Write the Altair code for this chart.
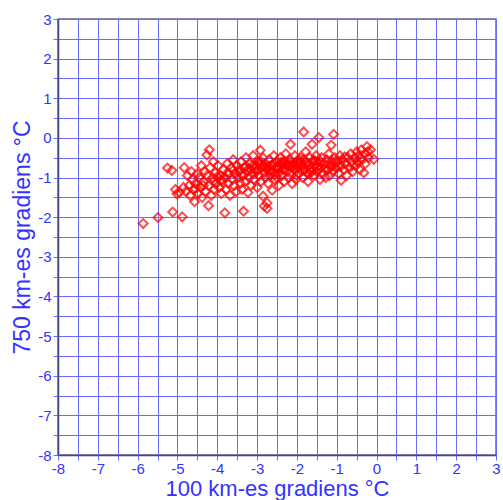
import altair as alt
import pandas as pd

xs = [
    -5.86, -5.49, -5.12, -4.88,
    -5.25, -5.14, -5.01, -5.05, -4.95,
    -4.83, -4.85, -4.78, -4.75, -4.70, -4.68, -4.65, -4.62, -4.60,
    -4.57, -4.55, -4.50, -4.48, -4.45, -4.42, -4.40, -4.38, -4.35, -4.32, -4.30,
    -4.26, -4.20, -4.22, -4.25, -4.20, -4.18, -4.15, -4.12, -4.10, -4.08, -4.05, -4.02,
    -3.98, -3.95, -3.92, -3.90, -3.88, -3.85, -3.81, -3.80, -3.78, -3.75, -3.72, -3.70,
    -3.68, -3.65, -3.62, -3.60, -3.58, -3.55, -3.52, -3.50, -3.48, -3.45, -3.42, -3.40,
    -3.38, -3.34, -3.35, -3.32, -3.30, -3.28, -3.25, -3.23, -3.20, -3.18, -3.15, -3.12, -3.10,
    -3.08, -3.05, -3.02, -3.00, -2.98, -2.95, -2.92, -2.90, -2.88, -2.85, -2.85, -2.82, -2.82, -2.80,
    -2.78, -2.75, -2.75, -2.75, -2.72, -2.70, -2.68, -2.65, -2.62, -2.60, -2.58, -2.55, -2.52, -2.50,
    -2.48, -2.45, -2.42, -2.40, -2.38, -2.35, -2.32, -2.30, -2.28, -2.25, -2.22, -2.20,
    -2.16, -2.18, -2.15, -2.12, -2.10, -2.08, -2.05, -2.02, -2.00, -1.98, -1.95, -1.92,
    -1.83, -1.88, -1.85, -1.82, -1.80, -1.78, -1.75, -1.72, -1.70, -1.68, -1.65, -1.62, -1.60,
    -1.58, -1.55, -1.52, -1.50, -1.45, -1.48, -1.42, -1.40, -1.38, -1.35, -1.32,
    -1.28, -1.25, -1.22, -1.20, -1.18, -1.14, -1.15, -1.12, -1.08, -1.10, -1.05, -1.02,
    -0.98, -0.95, -0.92, -0.89, -0.88, -0.85, -0.82, -0.78, -0.75, -0.72,
    -0.68, -0.65, -0.62, -0.60, -0.55, -0.52, -0.50, -0.48, -0.45, -0.42,
    -0.38, -0.35, -0.32, -0.30, -0.28, -0.24, -0.22, -0.20, -0.15, -0.07,
    -3.05, -2.95, -2.85, -2.70, -2.60, -2.45, -2.35, -2.25, -2.10, -1.95, -1.85, -1.70,
    -3.15, -2.92, -2.65, -2.40, -2.05, -1.55, -3.45, -3.28, -2.55, -2.28, -1.90, -1.62,
    -3.22, -3.12, -3.00, -2.90, -2.78, -2.68, -2.58, -2.48, -2.38, -2.30, -2.20, -2.12,
    -2.02, -1.93, -1.84, -1.76, -1.66, -1.58, -1.48, -1.40, -1.30, -1.22, -1.12, -1.04,
    -3.60, -3.40, -3.90, -4.10, -4.35, -4.55, -4.00, -3.75, -2.50, -2.00, -1.75, -1.45,
    -0.95, -0.80, -0.60, -0.40,
]
ys = [
    -2.16, -2.01, -1.87, -1.99,
    -0.76, -0.82, -1.41, -1.30, -1.38,
    -0.75, -1.25, -1.35, -0.95, -1.20, -1.45, -0.85, -1.05, -1.30,
    -1.61, -1.15, -0.90, -1.40, -1.00, -1.25, -0.70, -1.50, -1.10, -0.85, -1.35,
    -0.43, -0.30, -1.71, -0.95, -1.20, -0.75, -1.45, -1.00, -0.60, -1.30, -0.88, -1.15,
    -0.70, -1.25, -0.95, -1.40, -1.10, -0.80, -1.89, -1.00, -1.30, -0.65, -1.15, -0.90,
    -1.45, -0.75, -1.05, -0.55, -1.20, -0.90, -1.35, -0.70, -1.00, -0.85, -1.15, -0.60,
    -1.30, -1.85, -0.95, -0.75, -1.10, -0.50, -0.85, -1.38, -1.00, -0.65, -1.20, -0.90, -0.45,
    -1.05, -0.70, -0.85, -1.25, -0.60, -0.95, -0.31, -1.10, -0.75, -1.47, -0.50, -1.72, -0.88, -1.00,
    -0.65, -1.64, -1.78, -0.80, -1.15, -0.55, -0.95, -0.70, -1.32, -0.85, -0.45, -1.05, -0.75, -0.60,
    -0.90, -1.20, -0.50, -0.70, -0.95, -0.80, -1.10, -0.60, -0.40, -0.85, -1.00, -0.70,
    -0.16, -0.55, -0.90, -1.15, -0.65, -0.80, -0.45, -1.05, -0.60, -0.75, -0.90, -0.50,
    0.15, -0.70, -1.00, -0.55, -0.80, -0.35, -0.65, -1.10, -0.90, -0.50, -0.75, -0.16, -0.60,
    -0.95, -0.70, -0.45, -0.85, 0.01, -0.60, -1.05, -0.75, -0.50, -0.90, -0.65,
    -1.00, -0.55, -0.80, -0.40, -0.95, -0.18, -0.70, -0.60, 0.09, -0.85, -0.50, -0.75,
    -0.60, -0.90, -0.45, -1.07, -0.70, -0.55, -0.80, -0.65, -0.95, -0.50,
    -0.75, -0.40, -0.60, -0.85, -0.50, -0.70, -0.35, -0.60, -0.45, -0.80,
    -0.30, -0.55, -0.88, -0.40, -0.65, -0.22, -0.35, -0.50, -0.30, -0.54,
    -0.78, -0.65, -0.70, -0.72, -0.68, -0.75, -0.62, -0.66, -0.72, -0.64, -0.82, -0.70,
    -0.80, -0.58, -0.88, -0.62, -0.78, -0.58, -0.80, -0.72, -0.92, -0.68, -0.62, -0.85,
    -0.78, -0.70, -0.82, -0.66, -0.74, -0.82, -0.64, -0.76, -0.66, -0.78, -0.62, -0.72,
    -0.68, -0.58, -0.70, -0.62, -0.84, -0.56, -0.72, -0.60, -0.78, -0.66, -0.72, -0.60,
    -0.82, -0.92, -1.05, -1.10, -1.20, -1.28, -0.98, -0.88, -1.00, -0.95, -0.88, -0.80,
    -0.72, -0.48, -0.68, -0.52,
]

xticks = [v / 2 for v in range(-16, 7)]
yticks = [v / 2 for v in range(-16, 7)]

df = pd.DataFrame({"x": xs, "y": ys})

blue_text = "#3333ff"
grid_col = "#6a6aff"
font = "Liberation Sans"

chart = alt.Chart(df).mark_point(
    shape="diamond", filled=False, color="#ff0000", size=80, strokeWidth=2
).encode(
    x=alt.X("x:Q", scale=alt.Scale(domain=[-8, 3], nice=False, zero=False),
            axis=alt.Axis(title="100 km-es gradiens °C", values=xticks,
                          labelExpr="datum.value % 1 == 0 ? toString(datum.value) : ''")),
    y=alt.Y("y:Q", scale=alt.Scale(domain=[-8, 3], nice=False, zero=False),
            axis=alt.Axis(title="750 km-es gradiens °C", values=yticks,
                          labelExpr="datum.value % 1 == 0 ? toString(datum.value) : ''")),
).properties(
    width=438, height=436,
    autosize=alt.AutoSizeParams(type="none"),
    padding={"left": 58, "top": 19, "right": 7, "bottom": 45},
).configure_view(
    stroke="#6666aa", strokeWidth=1.5
).configure_axis(
    grid=True, gridColor=grid_col, gridOpacity=1, gridWidth=1,
    domainColor="#444488", domainWidth=1.5,
    tickColor=grid_col, tickSize=5, tickOpacity=1,
    labelColor=blue_text, labelFont=font, labelFontSize=15, labelPadding=2,
    titleColor=blue_text, titleFont=font, titleFontSize=23, titleFontWeight="normal",
    labelFlush=False, labelOverlap=False,
).configure_axisX(
    titlePadding=2, labelPadding=1, titleFontSize=22
).configure_axisY(
    titlePadding=3
)

chart.save("out.html", embed_options={"renderer": "svg", "actions": False})
